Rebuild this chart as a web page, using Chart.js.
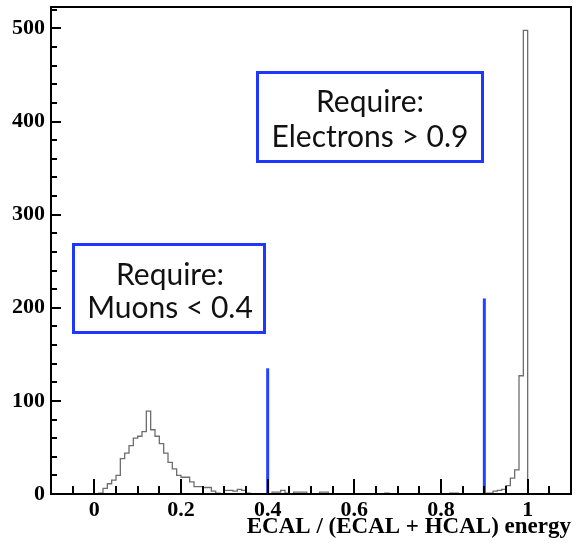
<!DOCTYPE html>
<html>
<head>
<meta charset="utf-8">
<script src="https://cdn.jsdelivr.net/npm/chart.js@4/dist/chart.umd.min.js"></script>
<style>
  html, body { margin: 0; padding: 0; background: #fff; }
  canvas { display: block; }
</style>
</head>
<body>
<canvas id="c" width="577" height="546"></canvas>
<script>
// Histogram of ECAL / (ECAL + HCAL) energy fraction, bins of width 0.01 starting at 0
const binStart = 0.0;
const binWidth = 0.01;
const counts = [
  0, 1, 6, 11, 15, 20, 38, 44, 52, 60,
  62, 67, 89, 69, 62, 54, 44, 34, 27, 20,
  18, 18, 13, 8, 8, 7, 7, 3, 1, 0,
  4, 4, 3, 5, 4, 1, 0, 0, 0, 0,
  0, 2, 2, 4, 1, 0, 2, 2, 2, 0,
  0, 0, 2, 2, 0, 0, 0, 0, 0, 0,
  0, 0, 0, 0, 0, 0, 0, 1, 0, 0,
  0, 0, 0, 0, 0, 0, 0, 0, 0, 0,
  0, 0, 1, 1, 0, 0, 0, 0, 0, 0,
  1, 1, 3, 4, 5, 9, 17, 26, 127, 498
];

// Selection cuts (vertical markers)
const cutValues = [0.4, 0.9];
const cutHeights = [135, 210];

const xTickValues = [0, 0.2, 0.4, 0.6, 0.8, 1];
const xTickLabels = ['0', '0.2', '0.4', '0.6', '0.8', '1'];
const yTickValues = [0, 100, 200, 300, 400, 500];
const yTickLabels = ['0', '100', '200', '300', '400', '500'];
const axisTitle = 'ECAL / (ECAL + HCAL) energy';
const muonBoxText = ['Require:', 'Muons < 0.4'];
const electronBoxText = ['Require:', 'Electrons > 0.9'];

const xMin = -0.1, xMax = 1.1, yMin = 0, yMax = 523;

// Step outline: each point sits on a bin's left edge, closed at the last right edge
const histPoints = counts.map((c, i) => ({ x: binStart + i * binWidth, y: c }));
histPoints.push({ x: binStart + counts.length * binWidth, y: 0 });

const cutDatasets = cutValues.map((v, i) => ({
  type: 'line',
  data: [{ x: v, y: 0 }, { x: v, y: cutHeights[i] }],
  borderColor: 'rgb(35, 65, 255)',
  borderWidth: 3,
  pointRadius: 0,
  fill: false
}));

const serifFamily = "'Liberation Serif', 'DejaVu Serif', serif";
const tickFont = { family: serifFamily, size: 22, weight: 'bold' };

// Frame, inward tick marks, axis title and the two annotation boxes
const framePlugin = {
  id: 'frame',
  afterDatasetsDraw(chart) {
    const { ctx, chartArea: a, scales: { x, y } } = chart;
    ctx.save();
    ctx.strokeStyle = '#000';
    ctx.lineWidth = 2;
    ctx.strokeRect(a.left, a.top, a.right - a.left, a.bottom - a.top);

    ctx.beginPath();
    for (let v = 0; v <= yMax; v += 20) {
      const py = Math.round(y.getPixelForValue(v));
      const len = v % 100 === 0 ? 10 : 6;
      ctx.moveTo(a.left, py);
      ctx.lineTo(a.left + len, py);
    }
    for (let i = -1; i <= 21; i++) {
      const px = Math.round(x.getPixelForValue(i * 0.05));
      const len = i % 4 === 0 ? 15 : 8;
      ctx.moveTo(px, a.bottom);
      ctx.lineTo(px, a.bottom - len);
    }
    ctx.stroke();

    ctx.fillStyle = '#000';
    ctx.font = `bold 23px ${serifFamily}`;
    ctx.textAlign = 'right';
    ctx.textBaseline = 'alphabetic';
    ctx.fillText(axisTitle, 571, 533);

    const drawBox = (l, t, r, b, lines, cx, baselines) => {
      ctx.fillStyle = '#fff';
      ctx.fillRect(l, t, r - l, b - t);
      ctx.strokeStyle = 'rgb(30, 55, 255)';
      ctx.lineWidth = 3;
      ctx.strokeRect(l, t, r - l, b - t);
      ctx.fillStyle = '#111';
      ctx.font = "30px Lato, 'Open Sans', sans-serif";
      ctx.textAlign = 'center';
      lines.forEach((s, i) => ctx.fillText(s, cx, baselines[i]));
    };
    drawBox(257.5, 72.5, 482.5, 161.5, electronBoxText, 370, [112, 147]);
    drawBox(73.5, 244.5, 264.5, 332.5, muonBoxText, 170, [285, 318]);
    ctx.restore();
  }
};

new Chart(document.getElementById('c'), {
  type: 'line',
  data: {
    datasets: [{
      data: histPoints,
      stepped: true,
      borderColor: 'rgb(110, 110, 110)',
      borderWidth: 1.3,
      pointRadius: 0,
      fill: false
    }, ...cutDatasets]
  },
  options: {
    responsive: false,
    animation: false,
    devicePixelRatio: 1,
    layout: { padding: { left: 0, top: 7, right: 6, bottom: 0 } },
    plugins: { legend: { display: false }, tooltip: { enabled: false } },
    scales: {
      x: {
        type: 'linear',
        min: xMin,
        max: xMax,
        afterBuildTicks: s => { s.ticks = xTickValues.map(v => ({ value: v })); },
        afterFit: s => { s.height = 52; s.paddingLeft = 0; s.paddingRight = 0; },
        grid: { display: false, drawTicks: false },
        border: { display: false },
        ticks: {
          autoSkip: false,
          maxRotation: 0,
          padding: 3,
          color: '#000',
          font: tickFont,
          callback: v => xTickLabels[xTickValues.indexOf(v)] ?? ''
        }
      },
      y: {
        type: 'linear',
        min: yMin,
        max: yMax,
        afterBuildTicks: s => { s.ticks = yTickValues.map(v => ({ value: v })); },
        afterFit: s => { s.width = 51; s.paddingTop = 0; s.paddingBottom = 0; },
        grid: { display: false, drawTicks: false },
        border: { display: false },
        ticks: {
          autoSkip: false,
          padding: 6,
          color: '#000',
          font: tickFont,
          callback: v => yTickLabels[yTickValues.indexOf(v)] ?? ''
        }
      }
    }
  },
  plugins: [framePlugin]
});
</script>
</body>
</html>
